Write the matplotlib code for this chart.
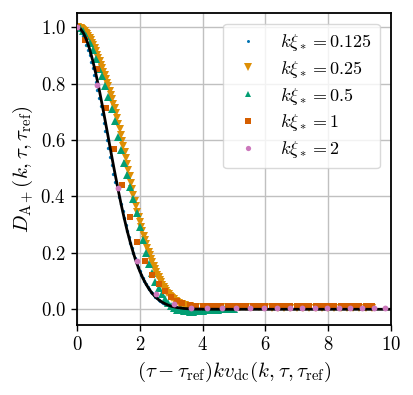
import matplotlib
matplotlib.use("Agg")
import matplotlib.pyplot as plt
import numpy as np

plt.rcParams["mathtext.fontset"] = "cm"
plt.rcParams["font.family"] = "serif"
plt.rcParams["font.serif"] = ["DejaVu Serif"]

# k xi_* = 0.125
x_0125 = np.concatenate([np.arange(0.0, 3.001, 0.05), np.arange(3.1, 4.01, 0.1)])
y_0125 = [1.000, 0.998, 0.991, 0.980, 0.967, 0.953, 0.937, 0.919, 0.900, 0.878,
          0.855, 0.830, 0.804, 0.777, 0.749, 0.720, 0.691, 0.661, 0.631, 0.600,
          0.570, 0.540, 0.510, 0.481, 0.452, 0.450, 0.425, 0.399, 0.373, 0.348,
          0.324, 0.300, 0.278, 0.256, 0.236, 0.216, 0.198, 0.181, 0.164, 0.149,
          0.135, 0.122, 0.110, 0.099, 0.089, 0.080, 0.071, 0.063, 0.056, 0.050,
          0.044, 0.039, 0.034, 0.030, 0.026, 0.023, 0.020, 0.017, 0.015, 0.013,
          0.011, 0.008, 0.005, 0.003, 0.001, 0.000, -0.001, -0.001, -0.001, 0.000,
          0.000]

# k xi_* = 0.25
x_025 = np.concatenate([np.arange(0.0, 3.601, 0.04), np.arange(3.8, 9.41, 0.2)])
y_025 = [1.000, 0.999, 0.998, 0.997, 0.993, 0.990, 0.985, 0.980, 0.975, 0.968,
         0.962, 0.953, 0.944, 0.935, 0.925, 0.915, 0.903, 0.892, 0.880, 0.867,
         0.855, 0.842, 0.829, 0.816, 0.803, 0.790, 0.775, 0.760, 0.744, 0.728,
         0.712, 0.694, 0.677, 0.658, 0.638, 0.618, 0.598, 0.577, 0.556, 0.535,
         0.514, 0.492, 0.471, 0.449, 0.427, 0.405, 0.385, 0.365, 0.345, 0.328,
         0.310, 0.293, 0.276, 0.261, 0.246, 0.231, 0.217, 0.204, 0.191, 0.178,
         0.166, 0.155, 0.144, 0.133, 0.123, 0.113, 0.104, 0.095, 0.087, 0.080,
         0.072, 0.066, 0.059, 0.053, 0.048, 0.043, 0.039, 0.035, 0.031, 0.028,
         0.025, 0.023, 0.020, 0.018, 0.017, 0.015, 0.014, 0.013, 0.012, 0.011,
         0.010,
         0.009, 0.009, 0.008, 0.008, 0.008, 0.007, 0.007, 0.007, 0.007, 0.007,
         0.007, 0.007, 0.006, 0.006, 0.006, 0.006, 0.006, 0.006, 0.006, 0.006,
         0.006, 0.006, 0.006, 0.006, 0.006, 0.006, 0.006, 0.006, 0.006]

# k xi_* = 0.5
x_05 = np.arange(0.0, 5.01, 0.1)
y_05 = [1.000, 0.996, 0.985, 0.968, 0.945, 0.918, 0.886, 0.852, 0.826, 0.790,
        0.752, 0.711, 0.668, 0.612, 0.565, 0.520, 0.475, 0.432, 0.390, 0.342,
        0.293, 0.245, 0.198, 0.160, 0.127, 0.098, 0.074, 0.054, 0.037, 0.023,
        0.012, 0.004, -0.001, -0.004, -0.006, -0.007, -0.008, -0.008, -0.007, -0.006,
        -0.005, -0.004, -0.003, -0.002, -0.001, -0.001, 0.000, 0.000, 0.000, 0.000,
        0.000]

# k xi_* = 1
x_1 = [0.0, 0.26, 0.65, 0.93, 1.17, 1.44, 1.68, 1.92, 2.16, 2.38,
       2.62, 2.80, 2.98, 3.19, 3.36, 3.59, 3.80, 4.0, 4.2, 4.4,
       4.6, 4.8, 5.0, 5.2, 5.4, 5.6, 5.8, 6.0, 6.2, 6.4,
       6.6, 6.8, 7.0, 7.2, 7.4, 7.6, 7.8, 8.0, 8.2, 8.4,
       8.6, 8.8, 9.0, 9.2, 9.4]
y_1 = [1.000, 0.956, 0.850, 0.712, 0.568, 0.440, 0.328, 0.240, 0.172, 0.122,
       0.088, 0.064, 0.045, 0.030, 0.021, 0.014, 0.012, 0.011, 0.011, 0.011,
       0.010, 0.010, 0.010, 0.011, 0.011, 0.011, 0.011, 0.012, 0.012, 0.012,
       0.012, 0.012, 0.012, 0.012, 0.012, 0.013, 0.013, 0.013, 0.013, 0.013,
       0.013, 0.013, 0.013, 0.013, 0.013]

# k xi_* = 2
x_2 = [0.0, 0.63, 1.31, 1.91, 2.53, 3.09, 3.64, 4.15, 4.63, 5.08,
       5.52, 5.95, 6.37, 6.78, 7.18, 7.57, 7.96, 8.34, 8.71, 9.08,
       9.45, 9.82]
y_2 = [1.000, 0.794, 0.430, 0.170, 0.054, 0.018, 0.006, 0.006, 0.006, 0.006,
       0.006, 0.006, 0.006, 0.006, 0.006, 0.006, 0.006, 0.006, 0.006, 0.006,
       0.005, 0.005]

# reference curve
x_ref = [0.0, 0.1, 0.2, 0.3, 0.4, 0.5, 0.6, 0.7, 0.8, 0.9,
         1.0, 1.1, 1.2, 1.3, 1.4, 1.5, 1.6, 1.7, 1.8, 1.9,
         2.0, 2.1, 2.2, 2.3, 2.4, 2.5, 2.6, 2.7, 2.8, 2.9,
         3.0, 3.2, 3.4, 3.6, 3.8, 4.0, 5.0, 10.0]
y_ref = [1.000, 0.995, 0.980, 0.956, 0.923, 0.882, 0.835, 0.783, 0.726, 0.667,
         0.607, 0.546, 0.487, 0.430, 0.375, 0.325, 0.278, 0.236, 0.198, 0.164,
         0.135, 0.110, 0.089, 0.071, 0.056, 0.044, 0.034, 0.026, 0.020, 0.015,
         0.011, 0.006, 0.003, 0.0015, 0.0007, 0.0003, 0.0, 0.0]

labels = [r"$k\xi_* = 0.125$", r"$k\xi_* = 0.25$", r"$k\xi_* = 0.5$",
          r"$k\xi_* = 1$", r"$k\xi_* = 2$"]
colors = ["#0173B2", "#DE8F05", "#029E73", "#D55E00", "#CC78BC"]

fig = plt.figure(figsize=(4.14, 3.95), dpi=100)
ax = fig.add_axes([0.186, 0.177, 0.758, 0.790])

ax.plot(x_0125, y_0125, "o", ms=2.4, mew=0, color=colors[0], label=labels[0], zorder=2)
ax.plot(x_025, y_025, "v", ms=6.0, mew=0, color=colors[1], label=labels[1], zorder=2)
ax.plot(x_05, y_05, "^", ms=5.5, mew=0, color=colors[2], label=labels[2], zorder=2)
ax.plot(x_1, y_1, "s", ms=5.0, mew=0, color=colors[3], label=labels[3], zorder=2)
ax.plot(x_ref, y_ref, "-", color="black", lw=2.0, zorder=2.5)
ax.plot(x_2, y_2, "o", ms=4.2, mew=0, color=colors[4], label=labels[4], zorder=3)

ax.set_xlim(0, 10)
ax.set_ylim(-0.056, 1.05)

xt = [0, 2, 4, 6, 8, 10]
yt = [0.0, 0.2, 0.4, 0.6, 0.8, 1.0]
ax.set_xticks(xt)
ax.set_xticklabels([f"${v}$" for v in xt])
ax.set_yticks(yt)
ax.set_yticklabels([f"${v:.1f}$" for v in yt])
ax.tick_params(labelsize=13.5, length=4, width=1.0, direction="out", pad=4)

ax.grid(True, color="#c0c0c0", lw=1.0)
ax.set_axisbelow(True)
for s in ax.spines.values():
    s.set_linewidth(1.3)

ax.set_xlabel(r"$(\tau-\tau_{\mathrm{ref}})kv_{\mathrm{dc}}(k,\tau,\tau_{\mathrm{ref}})$", fontsize=15)
ax.set_ylabel(r"$D_{\mathrm{A}+}(k,\tau,\tau_{\mathrm{ref}})$", fontsize=15)

ax.legend(loc="upper right", fontsize=13, labelspacing=0.32, handletextpad=0.9,
          borderpad=0.45, borderaxespad=0.6, framealpha=0.8, edgecolor="#d0d0d0",
          markerscale=0.9, handlelength=1.8)

plt.savefig("out.png", dpi=100)
plt.close(fig)
